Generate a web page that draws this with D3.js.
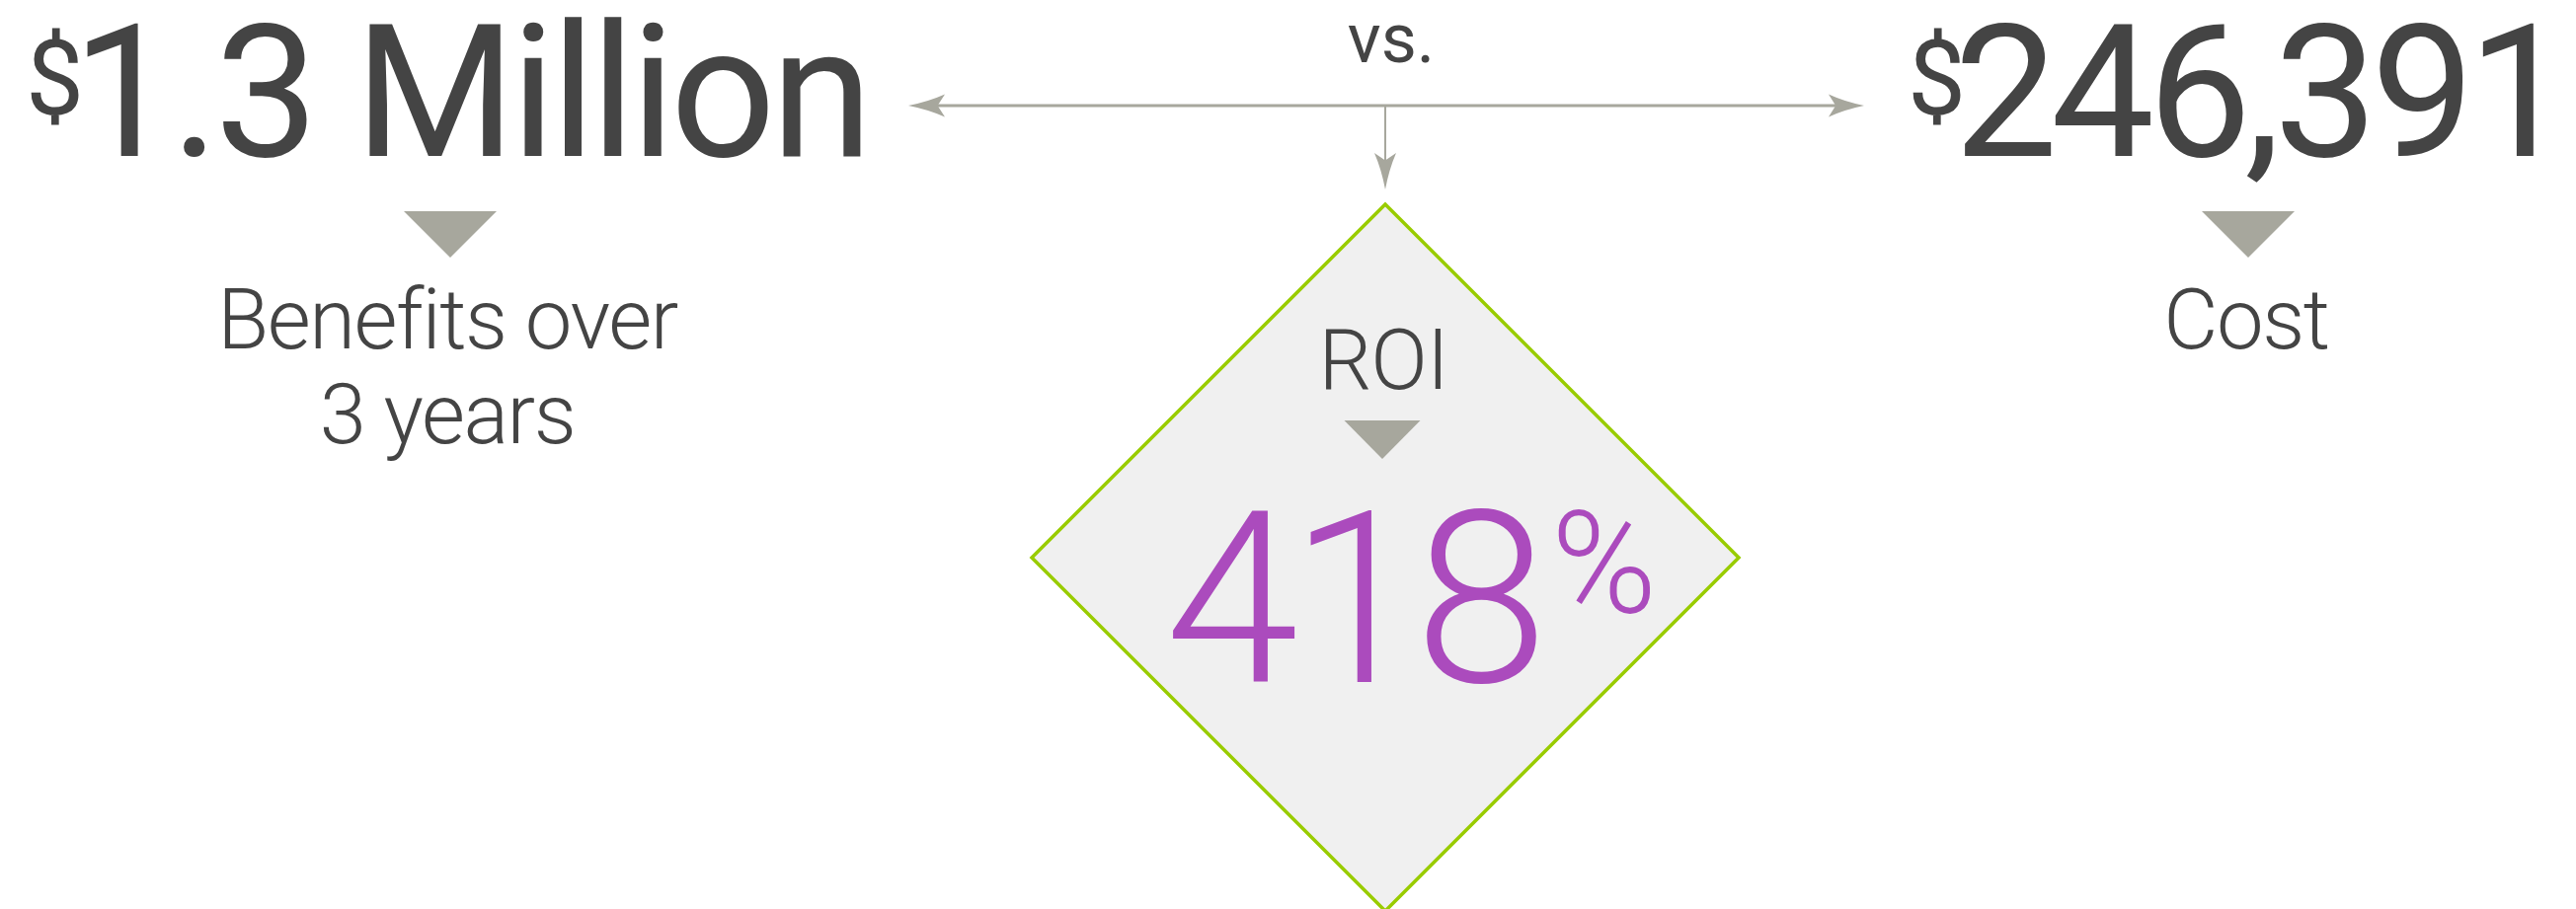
<!DOCTYPE html>
<html>
<head>
<meta charset="utf-8">
<script src="https://cdn.jsdelivr.net/npm/d3@7"></script>
<style>
  body { margin: 0; background: #fff; }
  svg { display: block; font-family: Roboto, "Noto Sans", sans-serif; }
</style>
</head>
<body>
<script>
var width = 2609;
var height = 921;

// chart content
var columns = ['benefits', 'roi', 'cost'];
var amountKeys = ['benefits', 'cost'];
var amountPrefixes = ['$', '$'];
var amountValues = ['1.3 Million', '246,391'];
var amountLabels = [['Benefits over', '3 years'], ['Cost']];
var compareWord = 'vs.';
var roiTitle = 'ROI';
var roiValue = 418;
var roiUnit = '%';

var textColor = '#444444';
var arrowColor = '#a7a79d';
var green = '#99cc00';
var purple = '#ab4bbd';

var colX = d3.scaleOrdinal().domain(columns).range([455, 1403, 2277]);
var amountLeft = d3.scaleOrdinal().domain(amountKeys).range([26, 1932]);
var amountSpacing = d3.scaleOrdinal().domain(amountKeys).range([-5, -7]);

var svg = d3.select('body').append('svg')
            .attr('width', width)
            .attr('height', height);

// small down-pointing triangle
var downTriangle = function(g, cx, top, w, h) {
  g.append('path')
   .attr('d', 'M' + (cx - w / 2) + ',' + top + ' L' + (cx + w / 2) + ',' + top + ' L' + cx + ',' + (top + h) + ' Z')
   .attr('fill', arrowColor);
};

// swept arrow head, tip at (x, y), pointing along angle (deg)
var arrowHead = function(g, x, y, angle, len, half) {
  g.append('path')
   .attr('d', 'M0,0 Q' + (-len * 0.55) + ',' + (-half * 0.35) + ' ' + (-len) + ',' + (-half) +
              ' L' + (-len * 0.8) + ',0 L' + (-len) + ',' + half +
              ' Q' + (-len * 0.55) + ',' + (half * 0.35) + ' 0,0 Z')
   .attr('transform', 'translate(' + x + ',' + y + ') rotate(' + angle + ')')
   .attr('fill', arrowColor);
};

// ---- connector arrows ----
var lineY = 107;
var lineLeft = 920, lineRight = 1888;
var arrowsG = svg.append('g').attr('class', 'arrows');

arrowsG.append('line')
       .attr('x1', lineLeft + 20).attr('x2', lineRight - 20)
       .attr('y1', lineY).attr('y2', lineY)
       .attr('stroke', arrowColor)
       .attr('stroke-width', 3);
arrowHead(arrowsG, lineLeft, lineY, 180, 37, 11.5);
arrowHead(arrowsG, lineRight, lineY, 0, 36, 11.5);

arrowsG.append('line')
       .attr('x1', colX('roi')).attr('x2', colX('roi'))
       .attr('y1', lineY).attr('y2', 175)
       .attr('stroke', arrowColor)
       .attr('stroke-width', 2);
arrowHead(arrowsG, colX('roi'), 192, 90, 37, 11);

svg.append('text')
   .attr('x', colX('roi') + 6)
   .attr('y', 63)
   .attr('text-anchor', 'middle')
   .attr('fill', textColor)
   .style('font-size', '70px')
   .text(compareWord);

// ---- diamond ----
var dCx = colX('roi'), dCy = 565, dR = 358;
var diamondPts = [[dCx, dCy - dR], [dCx + dR, dCy], [dCx, dCy + dR], [dCx - dR, dCy]];
svg.append('path')
   .attr('d', d3.line()(diamondPts) + 'Z')
   .attr('fill', '#f0f0f0')
   .attr('stroke', green)
   .attr('stroke-width', 3.5);

svg.append('text')
   .attr('x', 1401)
   .attr('y', 394)
   .attr('text-anchor', 'middle')
   .attr('fill', textColor)
   .style('font-size', '85px')
   .style('font-weight', 300)
   .style('letter-spacing', '-1px')
   .text(roiTitle);

downTriangle(svg, 1400, 426, 77, 39);

var roiText = svg.append('text')
   .attr('x', 1429)
   .attr('y', 691)
   .attr('text-anchor', 'middle')
   .attr('fill', purple)
   .style('font-weight', 300);
roiText.append('tspan')
       .style('font-size', '244px')
       .style('letter-spacing', '-9px')
       .text(roiValue);
roiText.append('tspan')
       .attr('dy', -70)
       .attr('dx', 12)
       .style('font-size', '145px')
       .text(roiUnit);

// ---- amounts ----
amountKeys.forEach(function(key, i) {
  var t = svg.append('text')
             .attr('x', amountLeft(key))
             .attr('y', 158)
             .attr('fill', textColor)
             .style('font-weight', 400);
  t.append('tspan')
   .attr('dy', -42)
   .style('font-size', '105px')
   .text(amountPrefixes[i]);
  t.append('tspan')
   .attr('dy', 42)
   .attr('dx', -12)
   .style('font-size', '187px')
   .style('letter-spacing', amountSpacing(key) + 'px')
   .text(amountValues[i]);

  downTriangle(svg, colX(key) + (key === 'cost' ? 0 : 1), 214, 94, 47);

  svg.append('text')
     .attr('text-anchor', 'middle')
     .attr('fill', textColor)
     .style('font-size', '85px')
     .style('font-weight', 300)
     .style('letter-spacing', '-1.5px')
     .selectAll('tspan')
     .data(amountLabels[i])
     .enter()
     .append('tspan')
     .attr('x', colX(key) - 2)
     .attr('y', function(d, j) { return 353 + j * 96; })
     .text(function(d) { return d; });
});
</script>
</body>
</html>
